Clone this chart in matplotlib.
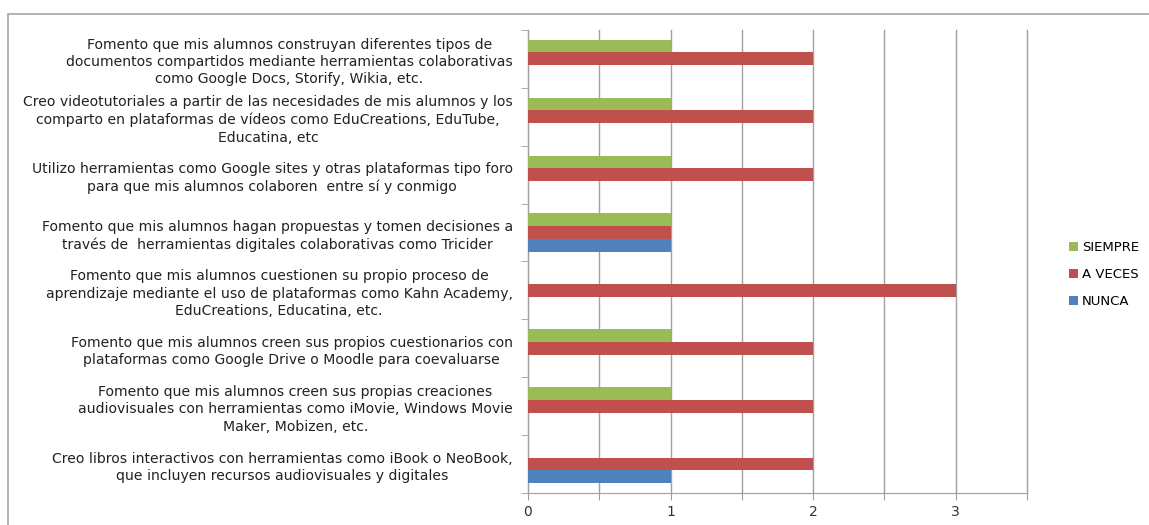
import numpy as np
import matplotlib.pyplot as plt
from matplotlib.patches import Rectangle

# Categorías (de arriba a abajo)
categorias = [
    "Fomento que mis alumnos construyan diferentes tipos de\ndocumentos compartidos mediante herramientas colaborativas\ncomo Google Docs, Storify, Wikia, etc.",
    "Creo videotutoriales a partir de las necesidades de mis alumnos y los\ncomparto en plataformas de vídeos como EduCreations, EduTube,\nEducatina, etc",
    "Utilizo herramientas como Google sites y otras plataformas tipo foro\npara que mis alumnos colaboren  entre sí y conmigo",
    "Fomento que mis alumnos hagan propuestas y tomen decisiones a\ntravés de  herramientas digitales colaborativas como Tricider",
    "Fomento que mis alumnos cuestionen su propio proceso de\naprendizaje mediante el uso de plataformas como Kahn Academy,\nEduCreations, Educatina, etc.",
    "Fomento que mis alumnos creen sus propios cuestionarios con\nplataformas como Google Drive o Moodle para coevaluarse",
    "Fomento que mis alumnos creen sus propias creaciones\naudiovisuales con herramientas como iMovie, Windows Movie\nMaker, Mobizen, etc.",
    "Creo libros interactivos con herramientas como iBook o NeoBook,\nque incluyen recursos audiovisuales y digitales",
]

nunca = [0, 0, 0, 1, 0, 0, 0, 1]
a_veces = [2, 2, 2, 1, 3, 2, 2, 2]
siempre = [1, 1, 1, 1, 0, 1, 1, 0]

plt.rcParams['font.family'] = ['DejaVu Sans']

fig = plt.figure(figsize=(11.49, 5.25), dpi=100)
ax = fig.add_axes([0.4595, 0.061, 0.4343, 0.882])

# marco del gráfico
fig.patches.append(Rectangle((8 / 1149, -0.1), 1.2, 1.1 - 14 / 525,
                             transform=fig.transFigure, fill=False,
                             edgecolor='#a6a6a6', linewidth=1.2))

n = len(categorias)
y = np.arange(n)[::-1]
h = 0.22

ax.barh(y - h, nunca, height=h, color='#4f81bd', label='NUNCA', zorder=3)
ax.barh(y, a_veces, height=h, color='#c0504d', label='A VECES', zorder=3)
ax.barh(y + h, siempre, height=h, color='#9bbb59', label='SIEMPRE', zorder=3)

ax.set_xlim(0, 3.5)
ax.set_ylim(-0.5, n - 0.5)

ax.set_xticks(np.arange(0, 3.51, 0.5))
ax.set_xticklabels(['0', '', '1', '', '2', '', '3', ''], fontsize=10, color='#333333')
ax.xaxis.grid(True, color='#a0a0a0', linewidth=1, zorder=0)
for gl in ax.get_xgridlines():
    gl.set_clip_on(False)
ax.tick_params(axis='x', length=5, color='#a0a0a0', pad=4)

ax.set_yticks(y)
ax.set_yticklabels(categorias, fontsize=10.1, color='#222222',
                   multialignment='center', linespacing=1.3)
ax.set_yticks(np.arange(-0.5, n, 1), minor=True)
ax.tick_params(axis='y', which='major', length=0, pad=11)
ax.tick_params(axis='y', which='minor', length=5, color='#a0a0a0')

for s in ['top', 'right']:
    ax.spines[s].set_visible(False)
ax.spines['left'].set_color('#a0a0a0')
ax.spines['bottom'].set_color('#a0a0a0')

handles, labels = ax.get_legend_handles_labels()
ax.legend(handles[::-1], labels[::-1], loc='center left', bbox_to_anchor=(1.06, 0.472),
          frameon=False, fontsize=9.5, handlelength=0.7, handleheight=0.7,
          handletextpad=0.3, labelspacing=1.05)

fig.savefig('out.png', dpi=100)
